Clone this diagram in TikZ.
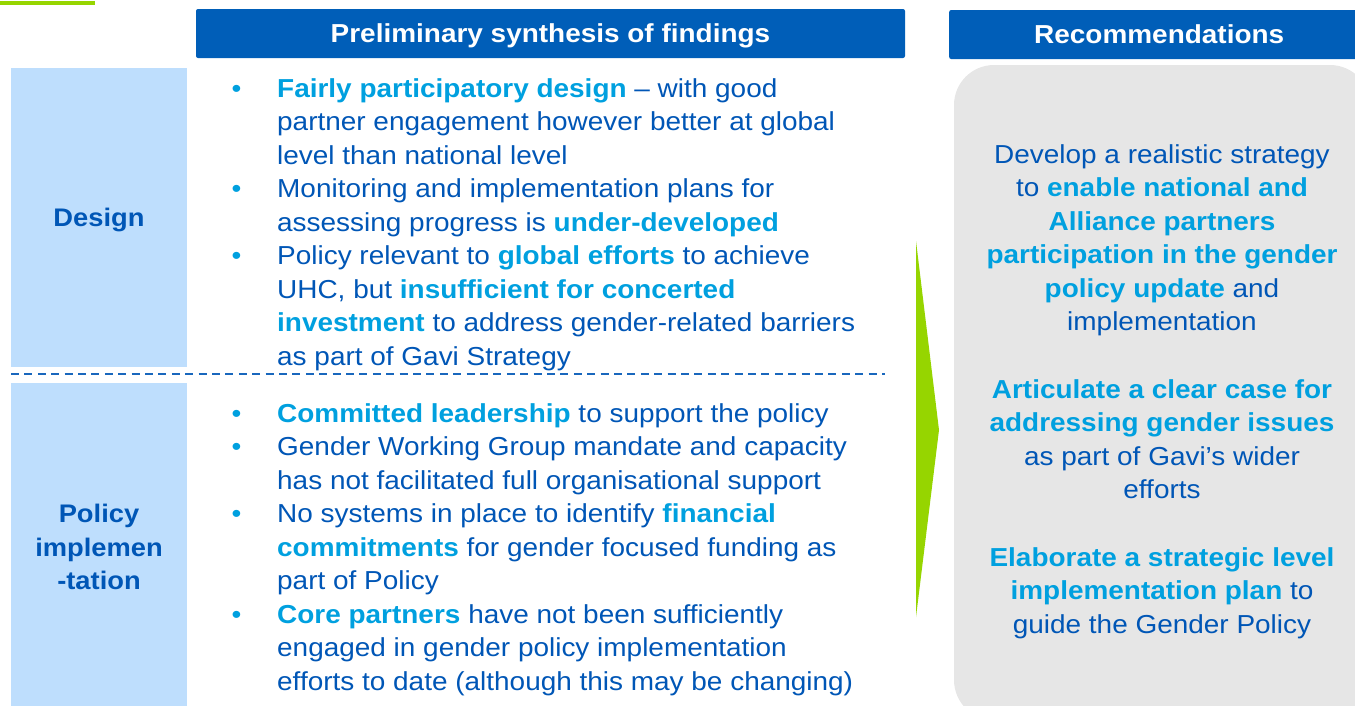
\documentclass[tikz,border=0pt]{standalone}
\usepackage{fontspec}
\setmainfont{Liberation Sans}[FakeStretch=1.075]
\definecolor{hdrblue}{RGB}{0,94,184}
\definecolor{txtblue}{RGB}{0,86,182}
\definecolor{hlcyan}{RGB}{0,160,223}
\definecolor{tagblue}{RGB}{190,222,253}
\definecolor{panelgray}{RGB}{230,230,230}
\definecolor{limegreen}{RGB}{150,213,0}
\newcommand{\hl}[1]{{\bfseries\color{hlcyan}#1}}
\newcommand{\bul}{\llap{\makebox[45.5pt][l]{\color{hlcyan}\textbullet}}}

\begin{document}
\begin{tikzpicture}[x=1pt,y=-1pt,
  hdr/.style={fill=hdrblue,rounded corners=2pt,minimum height=49pt,inner sep=0pt,
    text=white,font=\fontsize{26}{30}\selectfont\bfseries,text height=18pt,text depth=1pt},
  tag/.style={fill=tagblue,minimum width=176pt,inner sep=0pt,align=center,
    text=txtblue,font=\fontsize{25.4}{33.5}\selectfont\bfseries},
  txt/.style={inner sep=0pt,text=txtblue,font=\fontsize{26}{33.5}\selectfont}]

\useasboundingbox (0,0) rectangle (1355,705);
\clip (0,0) rectangle (1355,705);

\coordinate(divL)at(11,374);
\coordinate(divR)at(885,374);
\coordinate(arrT)at(916,241);
\coordinate(arrP)at(939,430);
\coordinate(arrB)at(916,617);

\fill[limegreen](0,0.5)rectangle(95,4.5);
\fill[panelgray,rounded corners=40pt](954,65)rectangle(1370,720);
\fill[limegreen](arrT)--(arrP)--(arrB)--cycle;

\node[hdr,minimum width=709pt](synth)at(550.5,33.5){Preliminary synthesis of findings};
\node[hdr,minimum width=420pt,anchor=west](recs)at(949,34.5){Recommendations};

\node[tag,minimum height=299pt,text height=18.2pt,text depth=0pt](design)at(99,217){Design};
\node[tag,minimum height=328pt](policy)at(99,547){Policy\\implemen\\-tation};

\draw[txtblue!90!white,line width=2pt,dash pattern=on 8pt off 5.4pt](divL)--(divR);

%% findings (base = last line)
\node[txt,align=left,anchor=base west](designtxt)at(277,365){%
\bul\hl{Fairly participatory design} -- with good\\
partner engagement however better at global\\
level than national level\\
\bul Monitoring and implementation plans for\\
assessing progress is \hl{under-developed}\\
\bul Policy relevant to \hl{global efforts} to achieve\\
UHC, but \hl{insufficient for concerted}\\
\hl{investment} to address gender-related barriers\\
as part of Gavi Strategy};

\node[txt,align=left,anchor=base west](policytxt)at(277,690){%
\bul\hl{Committed leadership} to support the policy\\
\bul Gender Working Group mandate and capacity\\
has not facilitated full organisational support\\
\bul No systems in place to identify \hl{financial}\\
\hl{commitments} for gender focused funding as\\
part of Policy\\
\bul\hl{Core partners} have not been sufficiently\\
engaged in gender policy implementation\\
efforts to date (although this may be changing)};

%% recommendations
\node[txt,align=center,anchor=base](rec1)at(1162,330.5){%
Develop a realistic strategy\\
to \hl{enable national and}\\
\hl{Alliance partners}\\
\hl{participation in the gender}\\
\hl{policy update} and\\
implementation};
\node[txt,align=center,anchor=base](rec2)at(1162,498.5){%
\hl{Articulate a clear case for}\\
\hl{addressing gender issues}\\
as part of Gavi’s wider\\
efforts};
\node[txt,align=center,anchor=base](rec3)at(1162,633){%
\hl{Elaborate a strategic level}\\
\hl{implementation plan} to\\
guide the Gender Policy};
\end{tikzpicture}
\end{document}
